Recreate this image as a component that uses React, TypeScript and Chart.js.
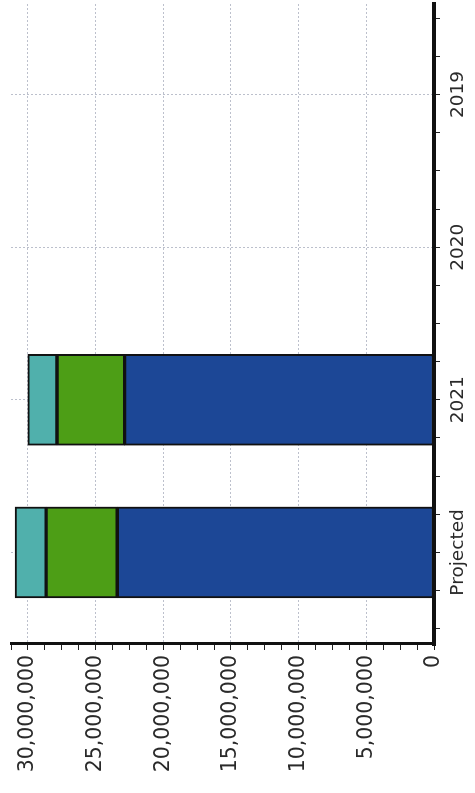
import React, { useEffect, useRef } from "react";
import { Chart, registerables } from "chart.js";

Chart.register(...registerables);

const categories = ["Projected", "2021", "2020", "2019"];
const baseValues = [23400000, 22850000, null, null];
const middleValues = [5250000, 5000000, null, null];
const topValues = [2300000, 2150000, null, null];

const toPoints = (arr: (number | null)[]) =>
  arr.map((v, i) => ({ x: i, y: v }));

export default function App() {
  const ref = useRef<HTMLCanvasElement>(null);

  useEffect(() => {
    if (!ref.current) return;
    const common = {
      borderColor: "#111111",
      borderWidth: 2,
      borderSkipped: false as const,
      barThickness: 91,
    };
    const chart = new Chart(ref.current, {
      type: "bar",
      data: {
        datasets: [
          { label: "Base", data: toPoints(baseValues) as any, backgroundColor: "#1c4796", ...common },
          { label: "Middle", data: toPoints(middleValues) as any, backgroundColor: "#4d9e16", ...common },
          { label: "Top", data: toPoints(topValues) as any, backgroundColor: "#50b0ac", ...common },
        ],
      },
      options: {
        animation: false,
        responsive: false,
        maintainAspectRatio: false,
        layout: { padding: { top: 11, right: 3, left: 0, bottom: 0 } },
        plugins: { legend: { display: false }, tooltip: { enabled: false } },
        scales: {
          x: {
            type: "linear",
            stacked: true,
            offset: false,
            min: -0.6,
            max: 3.6,
            afterFit: (s: any) => {
              s.height = 41;
              s.paddingLeft = 0;
              s.paddingRight = 0;
            },
            ticks: {
              stepSize: 0.25,
              includeBounds: false,
              autoSkip: false,
              maxRotation: 0,
              minRotation: 0,
              padding: 7,
              color: "#2a2a2a",
              font: { family: "'DejaVu Sans'", size: 18.5 },
              callback: (v: any) => {
                const n = Number(v);
                return Number.isInteger(n) && categories[n] !== undefined ? categories[n] : "";
              },
            },
            grid: {
              offset: false,
              color: (ctx: any) =>
                ctx.tick && Number.isInteger(ctx.tick.value) ? "#bcc0cc" : "rgba(0,0,0,0)",
              tickColor: "#222222",
              tickLength: 6,
              lineWidth: 1,
              tickWidth: 1,
            },
            border: { display: true, color: "#111111", width: 4, dash: [2, 2] },
          },
          y: {
            type: "linear",
            stacked: true,
            min: 0,
            max: 31250000,
            afterFit: (s: any) => {
              s.width = 149;
              s.paddingTop = 0;
              s.paddingBottom = 0;
            },
            ticks: {
              stepSize: 1250000,
              includeBounds: false,
              autoSkip: false,
              padding: 5,
              color: "#2a2a2a",
              font: { family: "'DejaVu Sans'", size: 20.5 },
              callback: (v: any) => {
                const n = Math.round(Number(v));
                return n % 5000000 === 0 ? n.toLocaleString("en-US") : "";
              },
            },
            grid: {
              color: (ctx: any) =>
                ctx.tick && Math.round(ctx.tick.value) % 5000000 === 0 ? "#bcc0cc" : "rgba(0,0,0,0)",
              tickColor: "#222222",
              tickLength: 6,
              lineWidth: 1,
              tickWidth: 1,
            },
            border: { display: true, color: "#111111", width: 3, dash: [2, 2] },
          },
        },
      },
    });
    return () => chart.destroy();
  }, []);

  return (
    <div
      style={{
        position: "fixed",
        left: 0,
        top: 0,
        width: 475,
        height: 793,
        overflow: "hidden",
        background: "#ffffff",
      }}
    >
      <div
        style={{
          position: "absolute",
          left: 0,
          top: 0,
          width: 793,
          height: 475,
          transformOrigin: "0 0",
          transform: "translate(0px, 793px) rotate(-90deg)",
        }}
      >
        <canvas ref={ref} width={793} height={475} style={{ display: "block", width: 793, height: 475 }} />
      </div>
    </div>
  );
}
